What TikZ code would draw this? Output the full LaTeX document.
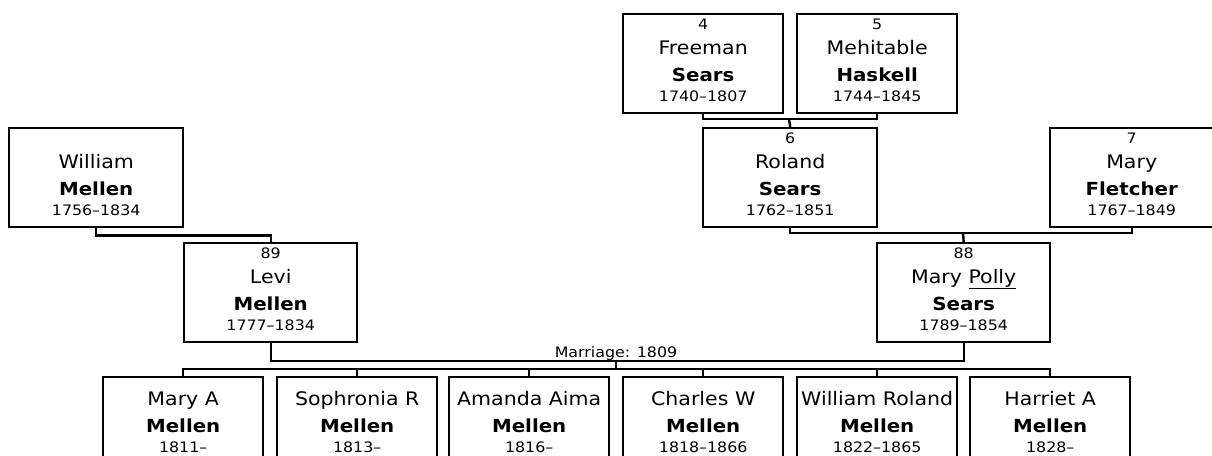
\documentclass[tikz,border=0pt]{standalone}
\usepackage{fontspec}
\setmainfont{DejaVu Sans}[FakeStretch=1.1]
\usetikzlibrary{calc,positioning}

\tikzset{
  personbox/.style={draw, rectangle, line width=1.8pt, anchor=north west,
    minimum height=74.25pt, inner sep=0pt},
  numtext/.style={anchor=base, inner sep=0pt, font=\fontsize{10.8}{13}\selectfont},
  firsttext/.style={anchor=base, inner sep=0pt, font=\fontsize{14}{17}\selectfont},
  lasttext/.style={anchor=base, inner sep=0pt, font=\fontsize{13.5}{16}\selectfont\bfseries},
  datetext/.style={anchor=base, inner sep=0pt, font=\fontsize{10.8}{13}\selectfont},
  link/.style={line width=1.8pt},
}

% one box per person: name, x, y, width (px), number, first, last, dates, baseline offset
\newcommand{\person}[9]{%
  \node[personbox, minimum width={#4*0.75pt}] (#1) at (#2,#3) {};
  \node[numtext] (#1-num) at ($(#1.north)+(0,#9-25)$) {#5};
  \node[firsttext] (#1-first) at ($(#1.north)+(0,#9)$) {#6};
  \node[lasttext] (#1-last) at ($(#1.north)+(0,#9+27)$) {#7};
  \node[datetext] (#1-dates) at ($(#1.north)+(0,#9+47)$) {#8};
}

\begin{document}
\begin{tikzpicture}[x=0.75pt, y=-0.75pt]
  \useasboundingbox (0,0) rectangle (1212,455);
  \clip (0,0) rectangle (1212,455);
  \fill[white] (0,0) rectangle (1212,455);

  % great-grandparents
  \person{freeman}{622}{13}{160}{4}{Freeman}{Sears}{1740--1807}{41}
  \person{mehitable}{796}{13}{160}{5}{Mehitable}{Haskell}{1744--1845}{41}

  % grandparents
  \person{william}{8}{127}{174}{}{William}{Mellen}{1756--1834}{41}
  \person{roland}{702}{127}{174}{6}{Roland}{Sears}{1762--1851}{41}
  \person{fletcher}{1049}{127}{163}{7}{Mary}{Fletcher}{1767--1849}{41}

  % parents
  \person{levi}{183}{242}{173}{89}{Levi}{Mellen}{1777--1834}{41}
  \person{polly}{876}{242}{173}{88}{Mary \underline{Polly}}{Sears}{1789--1854}{41}

  % children
  \person{marya}{102}{376}{160}{}{Mary A}{Mellen}{1811--}{29}
  \person{sophronia}{276}{376}{160}{}{Sophronia R}{Mellen}{1813--}{29}
  \person{amanda}{448}{376}{160}{}{Amanda Aima}{Mellen}{1816--}{29}
  \person{charles}{622}{376}{160}{}{Charles W}{Mellen}{1818--1866}{29}
  \person{williamr}{796}{376}{160}{}{William Roland}{Mellen}{1822--1865}{29}
  \person{harriet}{969}{376}{160}{}{Harriet A}{Mellen}{1828--}{29}

  % junctions
  \coordinate (fmjoin) at (789,119);
  \coordinate (rfjoin) at (963,233);
  \coordinate (marr) at (616,361);
  \coordinate (kids) at (616,369);

  % connectors
  \draw[link] (freeman.south) |- (fmjoin) -| (mehitable.south);
  \draw[link] (fmjoin) -- (roland.north);
  \draw[link] (roland.south) |- (rfjoin) -| (fletcher.south);
  \draw[link] (rfjoin) -- (polly.north);
  \draw[link] (william.south) -- ++(0,7) -| (levi.north);
  \draw[link] (levi.south) |- (marr) -| (polly.south);
  \node[datetext] (marrlabel) at ($(marr)+(0,-4)$) {Marriage: 1809};
  \draw[link] (marr) -- (kids);
  \draw[link] (marya.north) |- (kids) -| (harriet.north);
  \foreach \kid in {sophronia,amanda,charles,williamr}
    \draw[link] (\kid.north) -- ++(0,-7);
\end{tikzpicture}
\end{document}
